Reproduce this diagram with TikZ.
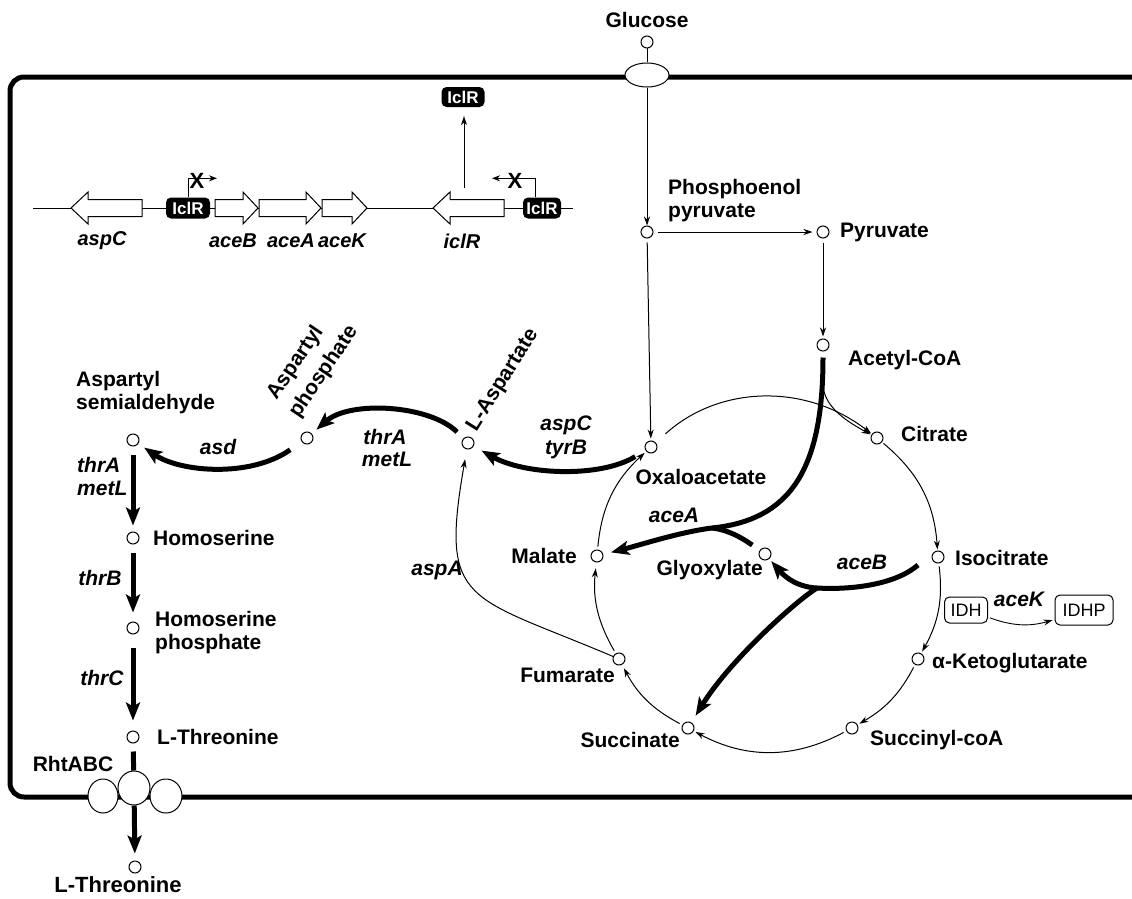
\documentclass[tikz,border=0pt]{standalone}
\usepackage{fontspec}
\setmainfont{Liberation Sans}
\usetikzlibrary{arrows.meta,shapes.geometric}
\begin{document}
\begin{tikzpicture}[x=1pt,y=1pt,
  met/.style={circle,draw,line width=1pt,minimum size=12pt,inner sep=0pt,fill=white},
  lbl/.style={font=\bfseries\fontsize{21}{23}\selectfont,inner sep=0pt},
  enz/.style={font=\bfseries\itshape\fontsize{21}{23}\selectfont,inner sep=0pt},
  gl/.style={font=\bfseries\itshape\fontsize{20}{22}\selectfont,inner sep=0pt},
  rx/.style={line width=1pt,-{Stealth[length=9pt,width=6pt]}},
  thk/.style={line width=5pt,-{Stealth[length=18pt,width=14pt,inset=4pt]}},
  thkl/.style={line width=5pt},
  gene/.style={draw,line width=1pt,fill=white},
  iclr/.style={fill=black,rounded corners=5pt,text=white,font=\bfseries\fontsize{17}{19}\selectfont,inner sep=0pt,minimum height=21pt},
  ibox/.style={draw,rounded corners=5pt,line width=1pt,font=\fontsize{18}{20}\selectfont,inner sep=0pt,minimum height=26pt},
  prom/.style={line width=1pt,-{Stealth[length=8pt,width=6pt]}},
  xm/.style={font=\bfseries\fontsize{22}{24}\selectfont,inner sep=0pt},
  memb/.style={line width=5pt,rounded corners=14pt},
  tp/.style={ellipse,draw,line width=1pt,fill=white,inner sep=0pt}]
\useasboundingbox (0,0) rectangle (1132,-899);

% membrane
\draw[memb] (1140,-77) -- (10,-77) -- (10,-797) -- (1140,-797);

% glucose entry
\node[lbl] (glct) at (647,-20) {Glucose};
\node[met] (glc) at (647,-42) {};
\node[tp,minimum width=44pt,minimum height=24pt] (glut) at (647,-75) {};
\draw[line width=1pt] (glc) -- (glut);

% metabolites
\node[met] (pep) at (647,-232) {};
\node[lbl,anchor=west,align=left] (pept) at (668,-201) {Phosphoenol\\pyruvate};
\node[met] (pyr) at (823,-232) {};
\node[lbl,anchor=west] (pyrt) at (840,-232) {Pyruvate};
\node[met] (acoa) at (823,-345) {};
\node[lbl,anchor=west] (acoat) at (848,-360) {Acetyl-CoA};
\node[met] (oaa) at (651,-447) {};
\node[lbl] (oaat) at (701,-477) {Oxaloacetate};
\node[met] (cit) at (877,-438) {};
\node[lbl,anchor=west] (citt) at (901,-434) {Citrate};
\node[met] (iso) at (938,-557) {};
\node[lbl,anchor=west] (isot) at (955,-558) {Isocitrate};
\node[met] (akg) at (918,-659) {};
\node[lbl,anchor=west] (akgt) at (932,-663) {α-Ketoglutarate};
\node[met] (scoa) at (852,-728) {};
\node[lbl,anchor=west] (scoat) at (870,-740) {Succinyl-coA};
\node[met] (suc) at (688,-728) {};
\node[lbl,anchor=east] (suct) at (680,-740) {Succinate};
\node[met] (fum) at (619,-659) {};
\node[lbl,anchor=east] (fumt) at (615,-675) {Fumarate};
\node[met] (mal) at (597,-556) {};
\node[lbl,anchor=east] (malt) at (577,-556) {Malate};
\node[met] (gly) at (765,-554) {};
\node[lbl,anchor=east] (glyt) at (763,-570) {Glyoxylate};

\node[met] (lasp) at (468,-443) {};
\node[lbl,rotate=58,anchor=west] (laspt) at (472,-430) {L-Aspartate};
\node[met] (asp) at (307,-438) {};
\node[lbl,rotate=56,anchor=west] (aspt1) at (272,-398) {Aspartyl};
\node[lbl,rotate=56,anchor=west] (aspt2) at (294,-416) {phosphate};
\node[met] (asa) at (133,-440) {};
\node[lbl,anchor=north west,align=left] (asat) at (76,-371) {Aspartyl\\semialdehyde};
\node[met] (hom) at (133,-538) {};
\node[lbl,anchor=west] (homt) at (153,-538) {Homoserine};
\node[met] (hsp) at (133,-628) {};
\node[lbl,anchor=north west,align=left] (hspt) at (155,-611) {Homoserine\\phosphate};
\node[met] (thr) at (133,-737) {};
\node[lbl,anchor=west] (thrt) at (157,-737) {L-Threonine};
\node[met] (thro) at (135,-867) {};
\node[lbl,font=\bfseries\fontsize{22}{24}\selectfont] (throt) at (118,-885) {L-Threonine};

% transporter
\node[tp,minimum width=30pt,minimum height=34pt] (rl) at (103,-796) {};
\node[tp,minimum width=32pt,minimum height=34pt] (rr) at (166,-796) {};
\node[tp,minimum width=32pt,minimum height=34pt] (rm) at (134,-788) {};
\node[lbl] (rht) at (73,-764) {RhtABC};

% thin connectors
\draw[rx] (glut) -- (pep);
\draw[rx,shorten <=4pt,shorten >=4pt] (pep) -- (pyr);
\draw[rx,shorten <=4pt,shorten >=2pt] (pyr) -- (acoa);
\draw[rx,shorten <=4pt,shorten >=2pt] (pep) -- (oaa);

% TCA cycle
\draw[rx,shorten <=13pt,shorten >=1pt] (oaa) to[bend left=40] (cit);
\draw[rx,shorten <=2pt,shorten >=1pt] (cit) to[bend left=23] (iso);
\draw[rx,shorten <=3pt,shorten >=2pt] (iso) to[bend left=18] (akg);
\draw[rx,shorten <=3pt,shorten >=2pt] (akg) to[bend left=16] (scoa);
\draw[rx,shorten <=3pt,shorten >=2pt] (scoa) to[bend left=28] (suc);
\draw[rx,shorten <=3pt,shorten >=4pt] (suc) to[bend left=17] (fum);
\draw[rx,shorten <=3pt,shorten >=6pt] (fum) to[bend left=18] (mal);
\draw[rx,shorten <=3pt,shorten >=2pt] (mal) to[bend left=21] (oaa);
\draw[rx,shorten >=10pt] (fum) to[out=157,in=-100,looseness=1.6] (lasp);
\node[enz] (aspa) at (437,-570) {aspA};

% acetyl-CoA -> citrate
\coordinate (acb) at (823,-386);
\draw[rx,shorten >=1pt] (acb) .. controls (825,-408) and (848,-422) .. (cit);

% glyoxylate shunt
\coordinate (jA) at (712,-528);
\draw[thk,shorten <=6pt,shorten >=8pt] (acoa) .. controls (823,-470) and (790,-520) .. (jA) .. controls (680,-532) and (640,-545) .. (mal);
\draw[thkl,shorten <=9pt] (gly) .. controls (745,-540) and (730,-530) .. (jA);
\node[enz] (acea) at (674,-515) {aceA};
\coordinate (aceBs) at (918,-565);
\coordinate (jB) at (817,-588);
\draw[thk,shorten >=3pt] (aceBs) .. controls (895,-585) and (850,-590) .. (jB) .. controls (797,-587) and (785,-577) .. (gly);
\draw[thk,shorten >=8pt] (jB) .. controls (797,-600) and (730,-660) .. (suc);
\node[enz] (aceb) at (862,-562) {aceB};

% IDH
\node[ibox,minimum width=43pt] (idh) at (966,-610) {IDH};
\node[ibox,minimum width=58pt,minimum height=30pt] (idhp) at (1084,-610) {IDHP};
\draw[rx,line width=0.9pt,shorten <=2pt,shorten >=2pt] (idh) to[bend right=18] (idhp);
\node[enz] (acek) at (1019,-599) {aceK};

% threonine pathway
\draw[thk,shorten <=12pt,shorten >=9pt] (oaa) .. controls (600,-478) and (525,-475) .. (lasp);
\node[enz] (aspc) at (566,-425) {aspC};
\node[enz] (tyrb) at (566,-449) {tyrB};
\draw[thk,shorten <=9pt,shorten >=6pt] (lasp) .. controls (430,-405) and (350,-400) .. (asp);
\node[enz] (thra1) at (385,-437) {thrA};
\node[enz] (metl1) at (387,-459) {metL};
\draw[thk,shorten <=14pt,shorten >=7pt] (asp) .. controls (250,-478) and (180,-472) .. (asa);
\node[enz] (asd) at (218,-447) {asd};
\draw[thk,shorten <=8pt,shorten >=6pt] (asa) -- (hom);
\node[enz,anchor=west] (thra2) at (77,-465) {thrA};
\node[enz,anchor=west] (metl2) at (77,-488) {metL};
\draw[thk,shorten <=8pt,shorten >=9pt] (hom) -- (hsp);
\node[enz] (thrb) at (100,-578) {thrB};
\draw[thk,shorten <=13pt,shorten >=10pt] (hsp) -- (thr);
\node[enz] (thrc) at (102,-678) {thrC};
\draw[thkl,shorten <=8pt] (thr) -- (rm);
\draw[thk,shorten >=7pt] (rm) -- (thro);

% gene cluster
\draw[line width=1pt] (33,-208) -- (573,-208);
\draw[gene] (142,-199.5) -- (88,-199.5) -- (88,-192) -- (71,-208) -- (88,-224) -- (88,-216.5) -- (142,-216.5) -- cycle;
\draw[gene] (215,-199.5) -- (243,-199.5) -- (243,-192) -- (258,-208) -- (243,-224) -- (243,-216.5) -- (215,-216.5) -- cycle;
\draw[gene] (259,-199.5) -- (306,-199.5) -- (306,-192) -- (321,-208) -- (306,-224) -- (306,-216.5) -- (259,-216.5) -- cycle;
\draw[gene] (322,-199.5) -- (352,-199.5) -- (352,-192) -- (367,-208) -- (352,-224) -- (352,-216.5) -- (322,-216.5) -- cycle;
\draw[gene] (504,-199.5) -- (450,-199.5) -- (450,-192) -- (433,-208) -- (450,-224) -- (450,-216.5) -- (504,-216.5) -- cycle;
\node[iclr,minimum width=44pt] (b1) at (188,-208) {IclR};
\node[iclr,minimum width=38pt] (b2) at (542,-208) {IclR};
\node[iclr,minimum width=43pt,minimum height=20pt] (b3) at (463,-97) {IclR};
\draw[prom] (b1.north) |- ++(29,19);
\node[xm] (x1) at (197,-181) {X};
\draw[prom] ([xshift=-7pt]b2.north) |- ++(-43,19);
\node[xm] (x2) at (515,-181) {X};
\coordinate (icls) at (464,-188);
\draw[rx,shorten >=9pt] (icls) -- (icls |- b3.south);
\node[gl] (g1) at (102,-241) {aspC};
\node[gl] (g2) at (233,-241) {aceB};
\node[gl] (g3) at (291,-241) {aceA};
\node[gl] (g4) at (342,-241) {aceK};
\node[gl] (g5) at (462,-241) {iclR};
\end{tikzpicture}
\end{document}
